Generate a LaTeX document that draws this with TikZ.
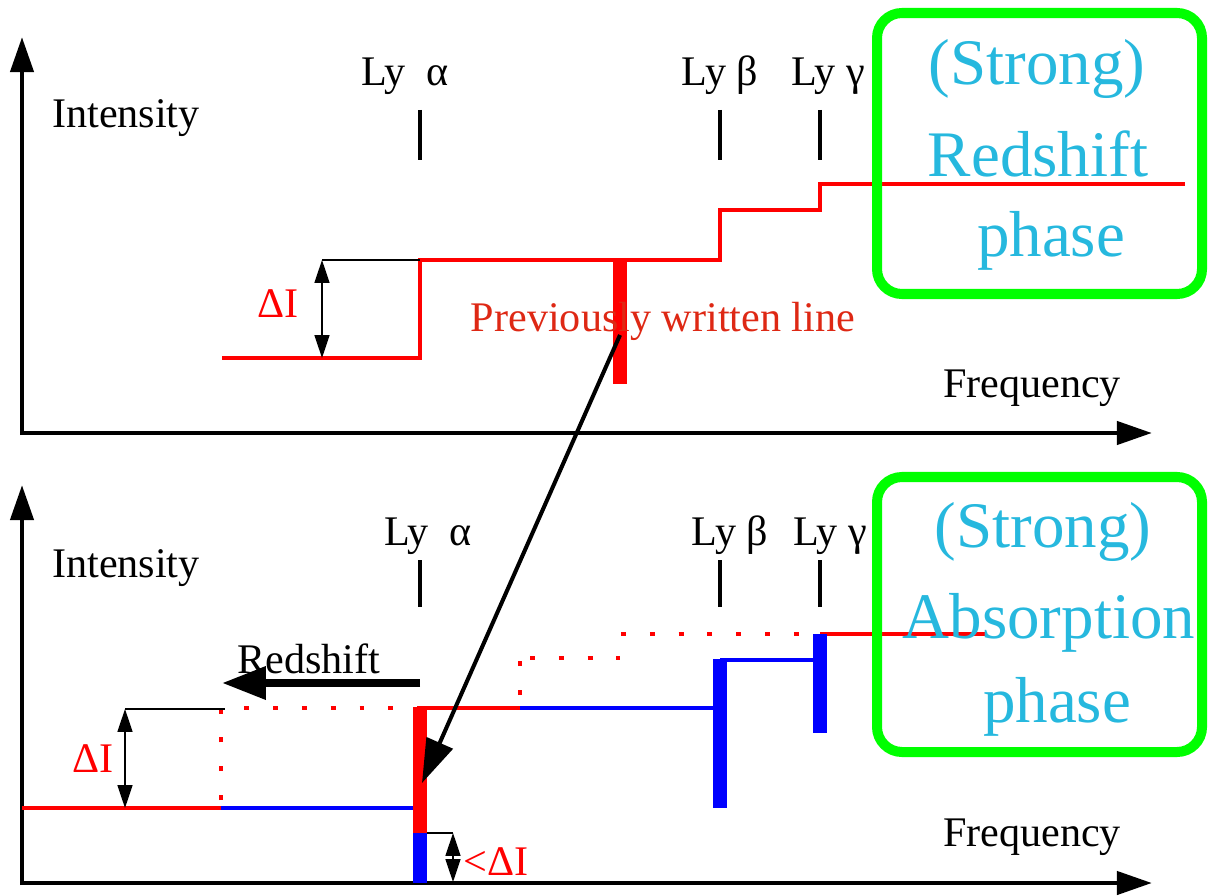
\documentclass[tikz,border=0pt]{standalone}
\usepackage{fontspec}
\setmainfont{Liberation Serif}
\usetikzlibrary{arrows.meta, positioning}

\definecolor{specred}{RGB}{255,0,0}
\definecolor{specblue}{RGB}{0,0,255}
\definecolor{notered}{RGB}{222,40,20}
\definecolor{phasecyan}{RGB}{38,184,222}
\definecolor{boxgreen}{RGB}{0,255,0}

\begin{document}
\begin{tikzpicture}[x=0.02cm, y=-0.02cm,
		lbl/.style={inner sep=0pt, anchor=base, font=\fontsize{24}{28}\selectfont},
		phasetext/.style={inner sep=0pt, anchor=base, text=phasecyan, font=\fontsize{37}{44}\selectfont},
		axisline/.style={line width=2.8pt, -{Triangle[length=20pt, width=13pt]}},
		lymark/.style={line width=2.8pt},
		spec/.style={line width=2.3pt},
		bar/.style={line width=8.5pt},
		dots/.style={specred, line width=2.8pt, dash pattern=on 2.8pt off 13.6pt},
		thinline/.style={line width=0.8pt},
		gap/.style={line width=0.8pt, {Triangle[length=13pt, width=8.5pt]}-{Triangle[length=13pt, width=8.5pt]}},
		phasebox/.style={draw=boxgreen, line width=5.7pt, rounded corners=0.5cm}]

				\useasboundingbox (0,0) rectangle (1209,895);

				% upper panel
				\draw[axisline] (22,435) -- (22,37);
				\draw[axisline] (20,433) -- (1152,433);
				\node[lbl] (int1) at (126,128) {Intensity};
				\node[lbl] (freq1) at (1032,397) {Frequency};

				\node[lbl] (lya1) at (405,86) {Ly\ \ α};
				\node[lbl] (lyb1) at (720,86) {Ly β};
				\node[lbl] (lyg1) at (828,86) {Ly γ};
				\draw[lymark] (420,110) -- (420,160);
				\draw[lymark] (720,110) -- (720,160);
				\draw[lymark] (820,110) -- (820,160);

				\draw[spec, specred] (222,358) -- (420,358) -- (420,260) -- (720,260) -- (720,210) -- (820,210) -- (820,184) -- (1185,184);
				\draw[bar, specred] (620,259) -- (620,384);

				\coordinate (d1top) at (322,260);
				\coordinate (d1bot) at (322,358);
				\draw[thinline] (d1top) -- (420,260);
				\draw[gap] (d1top) -- (d1bot);
				\node[lbl, text=specred] (dI1) at (278,317) {ΔI};

				\node[lbl, text=notered] (prev) at (663,331) {Previously written line};

				\draw[phasebox] (877,13) rectangle (1202,294);
				\node[phasetext] (strong1) at (1037,85) {(Strong)};
				\node[phasetext] (redsh) at (1038,176) {Redshift};
				\node[phasetext] (phase1) at (1051,256) {phase};

				% lower panel
				\draw[axisline] (22,885) -- (22,485);
				\draw[axisline] (20,883) -- (1152,883);
				\node[lbl] (int2) at (126,577) {Intensity};
				\node[lbl] (freq2) at (1032,846) {Frequency};

				\node[lbl] (lya2) at (428,545) {Ly\ \ α};
				\node[lbl] (lyb2) at (730,545) {Ly β};
				\node[lbl] (lyg2) at (830,545) {Ly γ};
				\draw[lymark] (420,560) -- (420,607);
				\draw[lymark] (720,560) -- (720,607);
				\draw[lymark] (820,560) -- (820,607);

				\draw[dots] (221,800) -- (221,708) -- (420,708);
				\draw[dots] (520,695) -- (520,658);
				\draw[dots] (530,658) -- (620,658);
				\draw[dots] (621,634) -- (820,634);

				\draw[spec, specred] (22,808) -- (221,808);
				\draw[spec, specblue] (221,808) -- (420,808);
				\draw[spec, specred] (420,708) -- (520,708);
				\draw[spec, specblue] (520,708) -- (720,708);
				\draw[spec, specblue] (720,660) -- (820,660);
				\draw[spec, specred] (820,634) -- (985,634);

				\draw[bar, specred] (420,707) -- (420,833);
				\draw[bar, specblue] (420,833) -- (420,883);
				\draw[bar, specblue] (720,659) -- (720,808);
				\draw[bar, specblue] (820,634) -- (820,733);

				\coordinate (d2top) at (125,709);
				\coordinate (d2bot) at (125,808);
				\draw[thinline] (d2top) -- (225,709);
				\draw[gap] (d2top) -- (d2bot);
				\node[lbl, text=specred] (dI2) at (93,772) {ΔI};

				\coordinate (d3top) at (453,833);
				\coordinate (d3bot) at (453,882);
				\draw[thinline] (427,833) -- (d3top);
				\draw[gap] (d3top) -- (d3bot);
				\node[lbl, text=specred] (dI3) at (496,875) {<ΔI};

				\node[lbl] (shiftlbl) at (309,673) {Redshift};
				\coordinate (shiftA) at (420,683);
				\coordinate (shiftB) at (222,683);
				\draw[line width=4.5pt, -{Triangle[length=25pt, width=18pt]}] (shiftA) -- (shiftB);

				\draw[phasebox] (877,477) rectangle (1202,752);
				\node[phasetext] (strong2) at (1043,547) {(Strong)};
				\node[phasetext] (absorb) at (1049,638) {Absorption};
				\node[phasetext] (phase2) at (1057,722) {phase};

				% written line moved down to Ly alpha
				\coordinate (prevfoot) at (620,335);
				\coordinate (lyahit) at (422,783);
				\draw[line width=2.3pt, -{Triangle[length=25pt, width=16pt]}] (prevfoot) -- (lyahit);

			\end{tikzpicture}
\end{document}
